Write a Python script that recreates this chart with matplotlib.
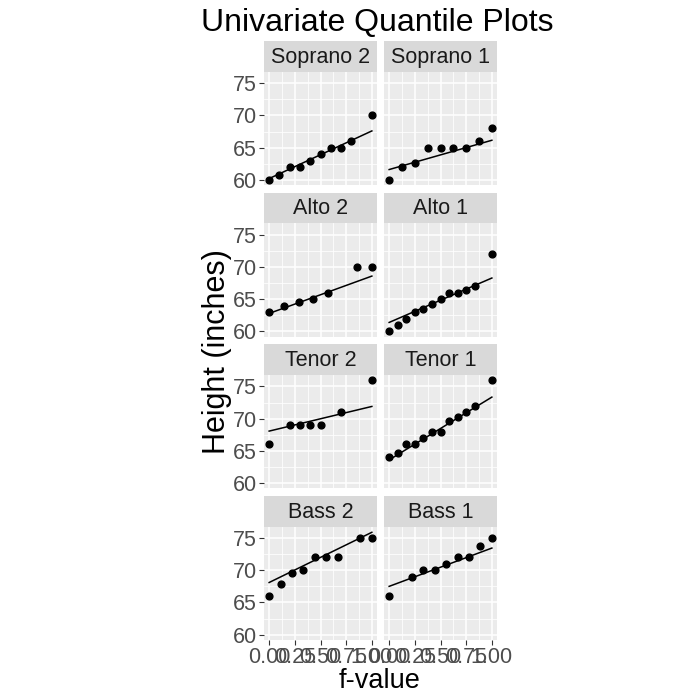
import numpy as np
import matplotlib
matplotlib.use("Agg")
import matplotlib.pyplot as plt
from matplotlib.ticker import MultipleLocator

plt.rcParams['font.family'] = ['Liberation Sans', 'DejaVu Sans']

# Voice parts, in facet order (row by row, left then right)
parts = ['Soprano 2', 'Soprano 1', 'Alto 2', 'Alto 1',
         'Tenor 2', 'Tenor 1', 'Bass 2', 'Bass 1']

# f-values and heights
sop2_f = [0.0, 0.1, 0.2, 0.3, 0.4, 0.5, 0.6, 0.7, 0.8, 1.0]
sop2_h = [60, 60.8, 62, 62, 63, 64, 65, 65, 66, 70]

sop1_f = [0.0, 0.125, 0.25, 0.375, 0.5, 0.625, 0.75, 0.875, 1.0]
sop1_h = [60, 62, 62.67, 65, 65, 65, 65, 66, 68]

alto2_f = [0.0, 0.143, 0.286, 0.429, 0.571, 0.857, 1.0]
alto2_h = [63, 64, 64.5, 65, 66, 70, 70]

alto1_f = [0.0, 0.083, 0.167, 0.25, 0.333, 0.417, 0.5, 0.583, 0.667, 0.75, 0.833, 1.0]
alto1_h = [60, 61, 62, 63, 63.5, 64.25, 65, 66, 66, 66.5, 67, 72]

ten2_f = [0.0, 0.2, 0.3, 0.4, 0.5, 0.7, 1.0]
ten2_h = [66, 69, 69, 69, 69, 71, 76]

ten1_f = [0.0, 0.083, 0.167, 0.25, 0.333, 0.417, 0.5, 0.583, 0.667, 0.75, 0.833, 1.0]
ten1_h = [64, 64.7, 66, 66, 67, 68, 68, 69.6, 70.25, 71, 72, 76]

bass2_f = [0.0, 0.111, 0.222, 0.333, 0.444, 0.556, 0.667, 0.889, 1.0]
bass2_h = [66, 67.8, 69.6, 70, 72, 72, 72, 75, 75]

bass1_f = [0.0, 0.222, 0.333, 0.444, 0.556, 0.667, 0.778, 0.889, 1.0]
bass1_h = [66, 69, 70, 70, 71, 72, 72, 73.75, 75]

f_values = [sop2_f, sop1_f, alto2_f, alto1_f, ten2_f, ten1_f, bass2_f, bass1_f]
heights = [sop2_h, sop1_h, alto2_h, alto1_h, ten2_h, ten1_h, bass2_h, bass1_h]

# fitted line, height at f=0 and at f=1
line_start = [60.2, 61.6, 62.8, 61.4, 68.07, 63.6, 68.1, 67.5]
line_end = [67.6, 66.15, 68.6, 68.3, 71.9, 73.35, 75.9, 73.45]

W = H = 700.0
fig = plt.figure(figsize=(7, 7), dpi=100)
fig.patch.set_facecolor('white')

pw, ph = 113.0, 113.3
strip_h = 30.6
col_x = [264.0, 384.0]
top0 = 71.7
pitch = 151.6

for i, part in enumerate(parts):
    r, c = divmod(i, 2)
    left = col_x[c]
    top = top0 + r * pitch
    ax = fig.add_axes([left / W, 1 - (top + ph) / H, pw / W, ph / H])
    ax.set_facecolor('#EBEBEB')
    for s in ax.spines.values():
        s.set_visible(False)
    ax.set_xlim(-0.05, 1.05)
    ax.set_ylim(59.2, 76.8)
    ax.xaxis.set_major_locator(MultipleLocator(0.25))
    ax.xaxis.set_minor_locator(MultipleLocator(0.125))
    ax.yaxis.set_major_locator(MultipleLocator(5))
    ax.yaxis.set_minor_locator(MultipleLocator(2.5))
    ax.grid(which='major', color='white', linewidth=1.1)
    ax.grid(which='minor', color='white', linewidth=0.55)
    ax.set_axisbelow(True)
    ax.tick_params(which='minor', length=0)
    ax.tick_params(which='major', length=3.5, width=0.8, color='#333333',
                   labelsize=15.5, labelcolor='#4D4D4D', pad=1.5)
    ax.set_xticks([0, 0.25, 0.5, 0.75, 1.0])
    ax.set_xticklabels(['0.00', '0.25', '0.50', '0.75', '1.00'])
    if c == 1:
        ax.tick_params(axis='y', which='both', left=False, labelleft=False)
    if r < 3:
        ax.tick_params(axis='x', which='both', bottom=False, labelbottom=False)

    ax.plot([0, 1], [line_start[i], line_end[i]], color='black', linewidth=1.1)
    ax.scatter(f_values[i], heights[i], s=24, color='black', zorder=3, clip_on=False)

    sax = fig.add_axes([left / W, 1 - top / H, pw / W, strip_h / H])
    sax.set_facecolor('#D9D9D9')
    sax.set_xticks([])
    sax.set_yticks([])
    for s in sax.spines.values():
        s.set_visible(False)
    sax.text(0.5, 0.47, part, ha='center', va='center', fontsize=15.5,
             color='#1A1A1A', transform=sax.transAxes)

fig.text(377 / W, 1 - 31 / H, 'Univariate Quantile Plots', ha='center',
         va='baseline', fontsize=23, color='black')
fig.text(217 / W, 1 - 352 / H, 'Height (inches)', ha='center', va='center',
         rotation=90, fontsize=22, color='black')
fig.text(380 / W, 1 - 688 / H, 'f-value', ha='center', va='baseline',
         fontsize=19.5, color='black')

fig.savefig('out.png', dpi=100)
